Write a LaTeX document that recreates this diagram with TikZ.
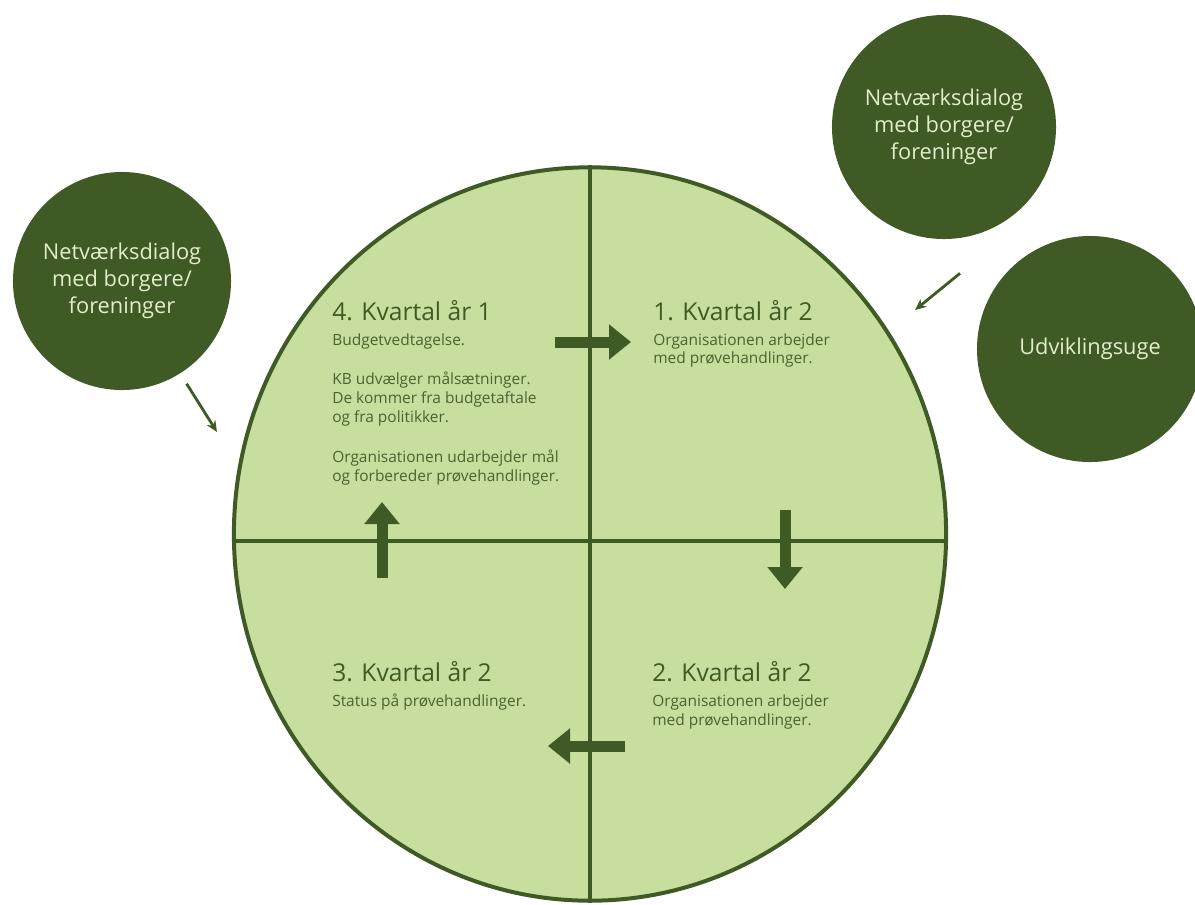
\documentclass[tikz,border=0pt]{standalone}
\usepackage{fontspec}
\setmainfont{Open Sans}
\usetikzlibrary{shapes,arrows.meta,positioning,calc}

\definecolor{darkleaf}{HTML}{3F5A25}
\definecolor{paleleaf}{HTML}{C7DE9E}
\definecolor{cream}{HTML}{E3EDCB}
\definecolor{inktext}{HTML}{4A6330}

\def\paragap{14.9pt}
\newcommand{\qlines}[1]{\begin{tabular}[t]{@{}l@{}}#1\end{tabular}}

\tikzset{
  bubble/.style={circle, fill=darkleaf, text=cream, align=center,
    font=\fontsize{15.5}{19.1}\selectfont, inner sep=0pt},
  qtitle/.style={anchor=base west, text=darkleaf, inner sep=0pt,
    font=\fontsize{17.5}{20}\selectfont},
  qbody/.style={anchor=base west, text=inktext, inner sep=0pt,
    font=\fontsize{11}{13.5}\selectfont},
  bigarrow/.style={draw=darkleaf, line width=0.275cm,
    -{Triangle[length=0.55cm,width=0.85cm]}},
  thinarrow/.style={draw=darkleaf, line width=2pt,
    -{Stealth[length=8pt,width=7pt]}},
}

\begin{document}
\begin{tikzpicture}[x=0.025cm,y=-0.025cm]
\useasboundingbox (0,0) rectangle (1195,904);

% the year wheel
\node[ellipse, draw=darkleaf, fill=paleleaf, line width=0.1cm,
  minimum width=17.8cm, minimum height=18.33cm, inner sep=0pt] (wheel) at (590,534) {};
\draw[darkleaf, line width=0.1cm] (wheel.north) -- (wheel.south);
\draw[darkleaf, line width=0.1cm] ($ (wheel.west) + (0,7) $) -- ($ (wheel.east) + (0,7) $);

% quarters
\node[qtitle] (K4) at (332,320) {4. Kvartal år 1};
\node[qbody] (K4B) at ($ (K4.base west) + (0,25) $) {\qlines{Budgetvedtagelse.\\[\paragap]
  KB udvælger målsætninger.\\
  De kommer fra budgetaftale\\
  og fra politikker.\\[\paragap]
  Organisationen udarbejder mål\\
  og forbereder prøvehandlinger.}};

\node[qtitle] (K1) at (653,320) {1. Kvartal år 2};
\node[qbody] (K1B) at ($ (K1.base west) + (0,25) $) {\qlines{Organisationen arbejder\\
  med prøvehandlinger.}};

\node[qtitle] (K3) at (332,681) {3. Kvartal år 2};
\node[qbody] (K3B) at ($ (K3.base west) + (0,25) $) {\qlines{Status på prøvehandlinger.}};

\node[qtitle] (K2) at (652,681) {2. Kvartal år 2};
\node[qbody] (K2B) at ($ (K2.base west) + (0,25) $) {\qlines{Organisationen arbejder\\
  med prøvehandlinger.}};

% turning arrows
\coordinate (GoRightA) at (555,342);
\coordinate (GoRightB) at (631,342);
\coordinate (GoDownA) at (785,510);
\coordinate (GoDownB) at (785,589);
\coordinate (GoLeftA) at (625,746);
\coordinate (GoLeftB) at (548,746);
\coordinate (GoUpA) at (382,578);
\coordinate (GoUpB) at (382,502);

\draw[bigarrow] (GoRightA) -- (GoRightB);
\draw[bigarrow] (GoDownA) -- (GoDownB);
\draw[bigarrow] (GoLeftA) -- (GoLeftB);
\draw[bigarrow] (GoUpA) -- (GoUpB);

% outside circles
\node[bubble, minimum size=5.45cm] (NA) at (122,281) {Netværksdialog\\med borgere/\\foreninger};
\node[bubble, minimum size=5.6cm] (NB) at (944,127) {Netværksdialog\\med borgere/\\foreninger};
\node[bubble, minimum size=5.65cm] (UD) at (1090,349) {Udviklingsuge};

\coordinate (NAin) at (217,432);
\coordinate (NBout) at ($ (NB.south) + (16,34) $);
\coordinate (NBin) at (915,310);

\draw[thinarrow, shorten <=0.3cm] (NA) -- (NAin);
\draw[thinarrow] (NBout) -- (NBin);

\end{tikzpicture}
\end{document}
